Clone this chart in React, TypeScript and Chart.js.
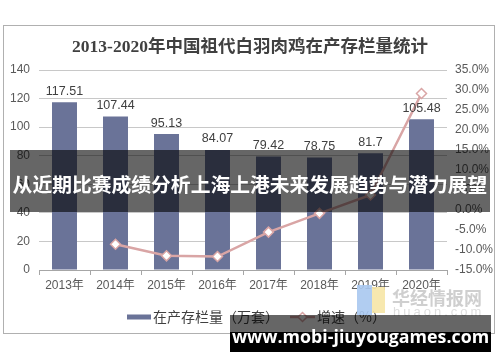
import React, { useEffect, useRef } from "react";
import { Chart, registerables } from "chart.js";

Chart.register(...registerables);

const categories = ["2013年", "2014年", "2015年", "2016年", "2017年", "2018年", "2019年", "2020年"];
const stockValues = [117.51, 107.44, 95.13, 84.07, 79.42, 78.75, 81.7, 105.48];
const growthValues: (number | null)[] = [null, -8.57, -11.46, -11.63, -5.53, -0.84, 3.75, 29.11];
const stockLabel = "在产存栏量（万套）";
const growthLabel = "增速（%）";
const titleText = "2013-2020年中国祖代白羽肉鸡在产存栏量统计";
const bannerText = "从近期比赛成绩分析上海上港未来发展趋势与潜力展望";
const siteText = "www.mobi-jiuyougames.com";

const BAR_COLOR = "#6a7398";
const LINE_COLOR = "#d9a5a5";
const TEXT_COLOR = "#595959";

const valueLabelPlugin = {
  id: "valueLabels",
  afterDatasetsDraw(chart: any) {
    const meta = chart.getDatasetMeta(0);
    const ctx = chart.ctx;
    ctx.save();
    ctx.font = "12.5px 'Liberation Sans', Arial, sans-serif";
    ctx.fillStyle = "#404040";
    ctx.textAlign = "center";
    ctx.textBaseline = "middle";
    meta.data.forEach((el: any, i: number) => {
      ctx.fillText(String(stockValues[i]), el.x, el.y - 11);
    });
    ctx.restore();
  },
};

const customLegendPlugin = {
  id: "customLegend",
  afterDraw(chart: any) {
    const ctx = chart.ctx;
    const y = 317;
    ctx.save();
    ctx.font = "14px 'Noto Sans CJK SC', sans-serif";
    ctx.textBaseline = "middle";
    ctx.textAlign = "left";
    ctx.fillStyle = BAR_COLOR;
    ctx.fillRect(127, y - 2.5, 24, 5);
    ctx.fillStyle = "#404040";
    ctx.fillText(chart.data.datasets[0].label, 153, y);
    ctx.strokeStyle = LINE_COLOR;
    ctx.lineWidth = 2.5;
    ctx.beginPath();
    ctx.moveTo(290, y);
    ctx.lineTo(315, y);
    ctx.stroke();
    ctx.fillStyle = "#ffffff";
    ctx.lineWidth = 1.5;
    ctx.beginPath();
    ctx.moveTo(302.5, y - 4.5);
    ctx.lineTo(307, y);
    ctx.lineTo(302.5, y + 4.5);
    ctx.lineTo(298, y);
    ctx.closePath();
    ctx.fill();
    ctx.stroke();
    ctx.fillStyle = "#404040";
    ctx.fillText(chart.data.datasets[1].label, 317, y);
    ctx.restore();
  },
};

export default function App() {
  const canvasRef = useRef<HTMLCanvasElement | null>(null);

  useEffect(() => {
    document.body.style.margin = "0";
    const canvas = canvasRef.current;
    if (!canvas) return;
    const chart = new Chart(canvas, {
      type: "bar",
      data: {
        labels: categories,
        datasets: [
          {
            type: "bar",
            label: stockLabel,
            data: stockValues,
            backgroundColor: BAR_COLOR,
            borderWidth: 0,
            yAxisID: "y",
            order: 1,
            barPercentage: 0.7,
            categoryPercentage: 0.7,
          },
          {
            type: "line",
            label: growthLabel,
            data: growthValues,
            borderColor: LINE_COLOR,
            backgroundColor: "#ffffff",
            borderWidth: 2.5,
            pointStyle: "rectRot",
            pointRadius: 5,
            pointBorderWidth: 1.5,
            pointBorderColor: LINE_COLOR,
            pointBackgroundColor: "#ffffff",
            yAxisID: "y1",
            order: 0,
            spanGaps: false,
            tension: 0,
          } as any,
        ],
      },
      options: {
        responsive: false,
        animation: false,
        devicePixelRatio: 1,
        layout: { padding: { top: 0, left: 0, right: 0, bottom: 72 } },
        plugins: {
          legend: { display: false },
          tooltip: { enabled: false },
          title: {
            display: true,
            text: titleText,
            color: "#404040",
            font: { size: 17.5, weight: "bold", family: "'Liberation Serif', 'Noto Sans CJK SC', serif", lineHeight: 1.2 },
            padding: { top: 36.5, bottom: 12.5 },
          },
        },
        scales: {
          x: {
            offset: true,
            grid: {
              display: true,
              drawOnChartArea: false,
              drawTicks: true,
              tickLength: 5,
              color: "#a6a6a6",
              offset: true,
            },
            border: { display: true, color: "#a6a6a6", width: 1 },
            ticks: {
              color: TEXT_COLOR,
              font: { size: 12, family: "'Liberation Sans', 'Noto Sans CJK SC', sans-serif" },
              padding: 3,
              maxRotation: 0,
              autoSkip: false,
            },
            afterFit(scale: any) {
              scale.height = 20;
            },
          },
          y: {
            position: "left",
            min: 0,
            max: 140,
            ticks: {
              stepSize: 20,
              color: TEXT_COLOR,
              font: { size: 12, family: "'Liberation Sans', Arial, sans-serif" },
              padding: 9,
            },
            grid: { color: "#c8c8c8", drawTicks: false, lineWidth: 1 },
            border: { display: false },
            afterFit(scale: any) {
              scale.width = 39;
            },
          },
          y1: {
            position: "right",
            min: -15,
            max: 35,
            ticks: {
              stepSize: 5,
              color: TEXT_COLOR,
              font: { size: 12, family: "'Liberation Sans', Arial, sans-serif" },
              padding: 8,
              callback: (v: any) => Number(v).toFixed(1) + "%",
            },
            grid: { drawOnChartArea: false, drawTicks: false },
            border: { display: false },
            afterFit(scale: any) {
              scale.width = 53;
            },
          },
        },
      } as any,
      plugins: [valueLabelPlugin, customLegendPlugin],
    });
    return () => chart.destroy();
  }, []);

  return (
    <div style={{ position: "absolute", left: 0, top: 0, width: 500, height: 362, background: "#ffffff", overflow: "hidden" }}>
      <div
        style={{
          position: "absolute",
          left: 3,
          top: 25,
          width: 490,
          height: 307,
          border: "1px solid #b0b0b0",
        }}
      />
      <canvas ref={canvasRef} width={500} height={362} style={{ position: "absolute", left: 0, top: 0, width: 500, height: 362 }} />
      <div style={{ position: "absolute", left: 357, top: 285, width: 15, height: 30, background: "#a9c8f0", opacity: 0.9 }} />
      <div style={{ position: "absolute", left: 372, top: 287, width: 13, height: 26, background: "#f6e6a6", opacity: 0.9 }} />
      <div
        style={{
          position: "absolute",
          left: 392,
          top: 284,
          fontFamily: "'Noto Sans CJK SC', sans-serif",
          fontWeight: 700,
          fontSize: 18,
          lineHeight: "26px",
          color: "#cfcfcf",
          whiteSpace: "nowrap",
        }}
      >
        华经情报网
      </div>
      <div
        style={{
          position: "absolute",
          left: 393,
          top: 304,
          fontFamily: "'Liberation Sans', sans-serif",
          fontSize: 13,
          letterSpacing: 3,
          color: "#dedede",
          whiteSpace: "nowrap",
        }}
      >
        huaon.com
      </div>
      <div
        style={{
          position: "absolute",
          left: 10,
          top: 150,
          width: 480,
          height: 62,
          background: "rgba(0,0,0,0.6)",
          color: "#ffffff",
          fontFamily: "'Noto Sans CJK SC', sans-serif",
          fontWeight: 700,
          fontSize: 19.8,
          lineHeight: "62px",
          textAlign: "center",
          whiteSpace: "nowrap",
          overflow: "hidden",
        }}
      >
        <span style={{ position: "relative", top: 3 }}>{bannerText}</span>
      </div>
      <div style={{ position: "absolute", left: 230, top: 315, width: 261, height: 17, background: "rgba(0,0,0,0.6)" }} />
      <div style={{ position: "absolute", left: 230, top: 332, width: 261, height: 20, background: "#000000" }} />
      <div
        style={{
          position: "absolute",
          left: 230,
          top: 315,
          width: 261,
          height: 37,
          color: "#ffffff",
          fontFamily: "'Open Sans', 'Noto Sans', sans-serif",
          fontWeight: 700,
          fontSize: 17.8,
          lineHeight: "37px",
          textAlign: "center",
          whiteSpace: "nowrap",
        }}
      >
        <span style={{ position: "relative", top: 3 }}>{siteText}</span>
      </div>
    </div>
  );
}
